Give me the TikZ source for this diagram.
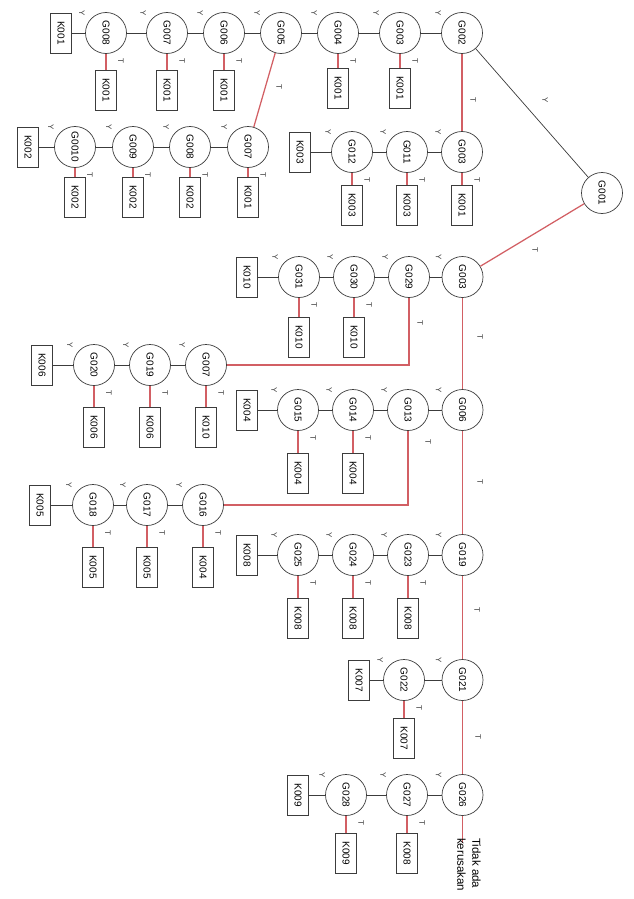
\documentclass[tikz,border=0pt]{standalone}
\usepackage{fontspec}
\setmainfont{Liberation Sans}
\definecolor{tred}{RGB}{210,95,100}
\definecolor{lgray}{RGB}{60,60,60}
\begin{document}
\begin{tikzpicture}[x=1pt,y=-1pt,
  gnode/.style={circle,draw=lgray,line width=0.7pt,minimum size=41pt,inner sep=0pt,font=\fontsize{10}{12}\selectfont,rotate=-90},
  kbox/.style={rectangle,draw=lgray,line width=0.7pt,minimum width=40pt,minimum height=21pt,inner sep=0pt,font=\fontsize{10}{12}\selectfont,rotate=-90},
  yedge/.style={draw=lgray,line width=0.7pt},
  tedge/.style={draw=tred,line width=1.25pt},
  lbl/.style={font=\fontsize{8}{9}\selectfont,rotate=-90,inner sep=0pt,text=lgray}]
\useasboundingbox (0,0) rectangle (633,899);
% circles
\foreach \n/\x/\t in {A1/106/G008,A2/167/G007,A3/224/G006,A4/281/G005,A5/338/G004,A6/400/G003,A7/462/G002}
  \node[gnode] (\n) at (\x,33) {\t};
\foreach \n/\x/\t in {B1/75/G0010,B2/133/G009,B3/190/G008,B4/248/G007}
  \node[gnode] (\n) at (\x,147) {\t};
\foreach \n/\x/\t in {C1/352/G012,C2/407/G011,C3/462/G003}
  \node[gnode] (\n) at (\x,152) {\t};
\node[gnode] (R) at (602,193) {G001};
\foreach \n/\x/\t in {D1/299/G031,D2/354/G030,D3/409/G029,D4/462.5/G003}
  \node[gnode] (\n) at (\x,277) {\t};
\foreach \n/\x/\t in {E1/94/G020,E2/150/G019,E3/206/G007}
  \node[gnode] (\n) at (\x,365) {\t};
\foreach \n/\x/\t in {F1/298/G015,F2/353/G014,F3/408/G013,F4/462.5/G006}
  \node[gnode] (\n) at (\x,410) {\t};
\foreach \n/\x/\t in {G1/93/G018,G2/147/G017,G3/203/G016}
  \node[gnode] (\n) at (\x,505) {\t};
\foreach \n/\x/\t in {H1/298/G025,H2/353/G024,H3/408/G023,H4/462.5/G019}
  \node[gnode] (\n) at (\x,555) {\t};
\foreach \n/\x/\t in {I1/404/G022,I2/462.5/G021}
  \node[gnode] (\n) at (\x,680) {\t};
\foreach \n/\x/\t in {J1/346/G028,J2/407/G027,J3/462.5/G026}
  \node[gnode] (\n) at (\x,795) {\t};
% left boxes
\node[kbox] (KA) at (61,33) {K001};
\node[kbox] (KB) at (28,147) {K002};
\node[kbox] (KC) at (300,152) {K003};
\node[kbox] (KD) at (247,277) {K010};
\node[kbox] (KE) at (42,365) {K006};
\node[kbox] (KF) at (247,410) {K004};
\node[kbox] (KG) at (40,505) {K005};
\node[kbox] (KH) at (247,555) {K008};
\node[kbox] (KI) at (359,680) {K007};
\node[kbox] (KJ) at (298,795) {K009};
% boxes below circles (T)
\foreach \c/\t/\y in {A1/K001/90,A2/K001/90,A3/K001/90,A5/K001/88,A6/K001/88,
  B1/K002/197,B2/K002/197,B3/K002/197,B4/K001/197,
  C1/K003/205,C2/K003/205,C3/K001/205,
  D1/K010/337,D2/K010/337,
  E1/K006/427,E2/K006/427,E3/K010/427,
  F1/K004/473,F2/K004/473,
  G1/K005/567,G2/K005/567,G3/K004/567,
  H1/K008/618,H2/K008/618,H3/K008/618,
  I1/K007/738,
  J1/K009/853,J2/K008/853}{
  \path (\c) ++(0,0) coordinate (tmp);
  \node[kbox] (T\c) at (tmp |- 0,\y) {\t};
  \draw[tedge] (\c) -- (T\c);
  \path (\c) ++(15,28) node[lbl] {T};
}
% Y edges
\foreach \a/\b in {A1/KA,A2/A1,A3/A2,A4/A3,A5/A4,A6/A5,A7/A6,
  B1/KB,B2/B1,B3/B2,B4/B3,
  C1/KC,C2/C1,C3/C2,
  D1/KD,D2/D1,D3/D2,D4/D3,
  E1/KE,E2/E1,E3/E2,
  F1/KF,F2/F1,F3/F2,F4/F3,
  G1/KG,G2/G1,G3/G2,
  H1/KH,H2/H1,H3/H2,H4/H3,
  I1/KI,I2/I1,
  J1/KJ,J2/J1,J3/J2}{
  \draw[yedge] (\a) -- (\b);
  \path (\a) ++(-24,-20) node[lbl] {Y};
}
% main edges
\draw[yedge] (A7) -- (R);
\node[lbl] at (545,100) {Y};
\draw[tedge] (R) -- (D4);
\node[lbl] at (535,250) {T};
\draw[tedge] (A7) -- (C3);
\node[lbl] at (473,100) {T};
\draw[tedge] (A4) -- (B4);
\node[lbl] at (279,87) {T};
\draw[tedge] (D4) -- (F4);
\node[lbl] at (480,337) {T};
\draw[tedge] (D3) |- (E3);
\node[lbl] at (420,323) {T};
\draw[tedge] (F4) -- (H4);
\node[lbl] at (480,482) {T};
\draw[tedge] (F3) |- (G3);
\node[lbl] at (428,442) {T};
\draw[tedge] (H4) -- (I2);
\node[lbl] at (477,610) {T};
\draw[tedge] (I2) -- (J3);
\node[lbl] at (478,737) {T};
\coordinate (END) at (462.5,843);
\draw[tedge] (J3) -- (END);
\node[rotate=-90,anchor=north west,align=left,inner sep=0pt,font=\fontsize{11.5}{15}\selectfont] (TX) at (481,838) {Tidak ada\\kerusakan};
\end{tikzpicture}
\end{document}
